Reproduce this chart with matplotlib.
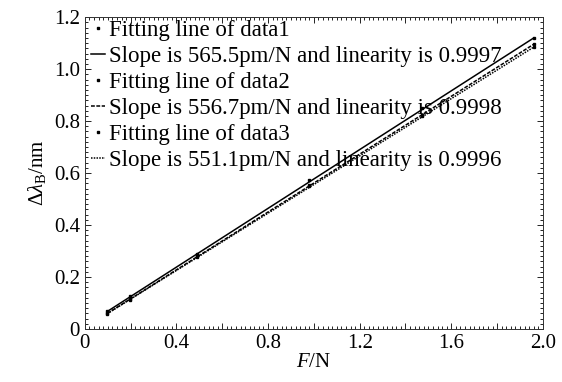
import numpy as np
import matplotlib
matplotlib.use("Agg")
import matplotlib.pyplot as plt
from matplotlib.ticker import MultipleLocator, FuncFormatter

plt.rcParams['font.family'] = ['Liberation Serif', 'DejaVu Serif']
plt.rcParams['mathtext.fontset'] = 'custom'
plt.rcParams['mathtext.rm'] = 'Liberation Serif'
plt.rcParams['mathtext.it'] = 'Liberation Serif:italic'

force = [0.098, 0.196, 0.49, 0.98, 1.47, 1.96]
data1 = [0.068, 0.125, 0.290, 0.575, 0.850, 1.120]
data2 = [0.060, 0.115, 0.280, 0.555, 0.825, 1.095]
data3 = [0.058, 0.112, 0.277, 0.550, 0.818, 1.085]
slopes = [0.5655, 0.5567, 0.5511]
intercepts = [0.0117, 0.0047, 0.0047]
point_labels = ['Fitting line of data1', 'Fitting line of data2', 'Fitting line of data3']
line_labels = ['Slope is 565.5pm/N and linearity is 0.9997',
               'Slope is 556.7pm/N and linearity is 0.9998',
               'Slope is 551.1pm/N and linearity is 0.9996']

fig = plt.figure(figsize=(5.62, 3.82), dpi=100)
ax = fig.add_axes([0.151, 0.139, 0.815, 0.816])

styles = ['-', (0, (2.5, 1)), (0, (1, 0.8))]
xs = np.array(force)
for d, s, b, ls, pl, ll in zip([data1, data2, data3], slopes, intercepts, styles,
                               point_labels, line_labels):
    ax.plot(force, d, linestyle='none', marker='s', markersize=1.6, color='black', label=pl)
    ax.plot(xs, s * xs + b, linestyle=ls, color='black', linewidth=1.1, label=ll)

ax.set_xlim(0, 2.0)
ax.set_ylim(0, 1.2)
ax.xaxis.set_major_locator(MultipleLocator(0.2))
ax.xaxis.set_minor_locator(MultipleLocator(0.02))
ax.yaxis.set_major_locator(MultipleLocator(0.2))
ax.yaxis.set_minor_locator(MultipleLocator(0.02))

def fmt_x(v, p):
    k = int(round(v / 0.2))
    if k % 2:
        return ''
    return '0' if k == 0 else '%.1f' % v

def fmt_y(v, p):
    return '0' if abs(v) < 1e-9 else '%.1f' % v

ax.xaxis.set_major_formatter(FuncFormatter(fmt_x))
ax.yaxis.set_major_formatter(FuncFormatter(fmt_y))
ax.tick_params(which='both', direction='in', top=True, right=True, labelsize=15, width=0.6)
ax.tick_params(which='major', length=4)
ax.tick_params(which='minor', length=2)
for sp in ax.spines.values():
    sp.set_linewidth(0.7)
    sp.set_color('#333333')

ax.set_xlabel(r'$F$/N', fontsize=15, labelpad=0)
ax.set_ylabel(r'$\Delta\lambda_{\rm B}$/nm', fontsize=15, labelpad=4)

leg = ax.legend(loc='upper left', bbox_to_anchor=(0.008, 1.0), frameon=False, fontsize=16.5,
                handlelength=0.6, handletextpad=0.2, labelspacing=0.22, borderaxespad=0.0,
                borderpad=0.1, markerscale=1.0)

fig.savefig('out.png', dpi=100)
